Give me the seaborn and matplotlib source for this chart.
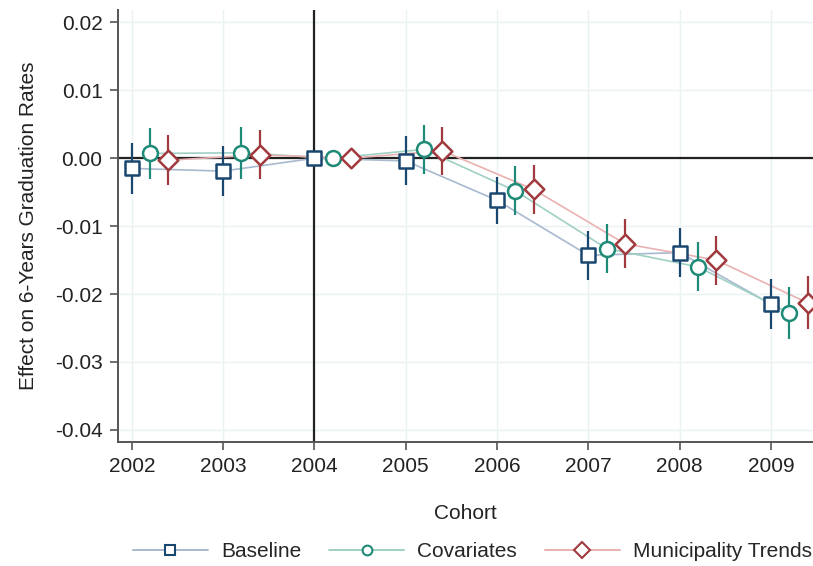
import numpy as np
import pandas as pd
import seaborn as sns
import matplotlib.pyplot as plt
from matplotlib.lines import Line2D

# data
cohorts = [2002, 2003, 2004, 2005, 2006, 2007, 2008, 2009]
series = ["Baseline", "Covariates", "Municipality Trends"]
baseline = [-0.0015, -0.0019, 0.0, -0.0004, -0.0062, -0.0143, -0.0139, -0.0215]
baseline_ci = [0.0037, 0.0037, 0.0, 0.0036, 0.0035, 0.0036, 0.0036, 0.0037]
covariates = [0.0007, 0.0008, 0.0, 0.0013, -0.0048, -0.0133, -0.0160, -0.0228]
covariates_ci = [0.0038, 0.0038, 0.0, 0.0036, 0.0036, 0.0036, 0.0036, 0.0038]
trends = [-0.0003, 0.0005, 0.0, 0.0011, -0.0046, -0.0126, -0.0150, -0.0213]
trends_ci = [0.0037, 0.0036, 0.0, 0.0035, 0.0036, 0.0036, 0.0036, 0.0039]
offsets = [0.0, 0.2, 0.4]

dark = {"Baseline": "#1a476f", "Covariates": "#1f8a77", "Municipality Trends": "#a03a3f"}
light = {"Baseline": "#a9b9cf", "Covariates": "#9fd0c4", "Municipality Trends": "#eab1b1"}
marks = {"Baseline": "s", "Covariates": "o", "Municipality Trends": "D"}
msize = {"Baseline": 110, "Covariates": 115, "Municipality Trends": 100}

rows = []
for name, vals, cis, off in zip(series, [baseline, covariates, trends],
                                [baseline_ci, covariates_ci, trends_ci], offsets):
    for c, v, e in zip(cohorts, vals, cis):
        rows.append({"series": name, "x": c + off, "y": v, "ci": e})
df = pd.DataFrame(rows)

sns.set_style("white")
plt.rcParams["font.family"] = ["Liberation Sans", "DejaVu Sans"]
FS = 15

fig = plt.figure(figsize=(8.13, 5.66), dpi=100)
ax = fig.add_axes([0.145, 0.219, 0.855, 0.763])

# faint grid
for c in cohorts:
    ax.axvline(c, color="#eaf2f3", lw=1, zorder=0)
for t in np.arange(-0.04, 0.021, 0.01):
    ax.axhline(t, color="#eaf2f3", lw=1, zorder=0)

ax.axhline(0, color="#222222", lw=1.6, zorder=1)
ax.axvline(2004, color="#222222", lw=1.6, zorder=1)

sns.lineplot(data=df, x="x", y="y", hue="series", palette=light,
             lw=1.2, legend=False, ax=ax, zorder=2, sort=False)

for name in series:
    d = df[df["series"] == name]
    ax.vlines(d["x"], d["y"] - d["ci"], d["y"] + d["ci"],
              color=dark[name], lw=1.6, zorder=3)

for name in series:
    d = df[df["series"] == name]
    sns.scatterplot(data=d, x="x", y="y", marker=marks[name], s=msize[name],
                    facecolor="white", edgecolor=dark[name], linewidth=1.8,
                    legend=False, ax=ax, zorder=4)

ax.set_xlim(2001.847, 2009.46)
ax.set_ylim(-0.0418, 0.0218)
ax.set_xticks(cohorts)
ax.set_yticks(np.round(np.arange(-0.04, 0.021, 0.01), 2))
ax.yaxis.set_major_formatter(plt.FormatStrFormatter("%.2f"))
ax.tick_params(axis="both", direction="out", length=6, width=1.2,
               color="#555555", labelsize=FS, labelcolor="#222222", pad=5)
ax.tick_params(left=True, bottom=True)

for s in ["top", "right"]:
    ax.spines[s].set_visible(False)
for s in ["left", "bottom"]:
    ax.spines[s].set_color("#555555")
    ax.spines[s].set_linewidth(1.4)

ax.set_xlabel("Cohort", fontsize=FS, color="#222222", labelpad=20)
ax.set_ylabel("Effect on 6-Years Graduation Rates", fontsize=FS,
              color="#222222", labelpad=12)

handles = [Line2D([0], [0], color=light[n], lw=1.4, marker=marks[n],
                  markersize=7 if n != "Municipality Trends" else 8,
                  markerfacecolor="white", markeredgecolor=dark[n],
                  markeredgewidth=1.5) for n in series]
fig.legend(handles, series, loc="center", ncol=3, frameon=False,
           bbox_to_anchor=(0.581, 0.025), fontsize=FS, handlelength=3.6,
           columnspacing=1.35, handletextpad=0.62)

fig.savefig("out.png", dpi=100)
plt.close(fig)
